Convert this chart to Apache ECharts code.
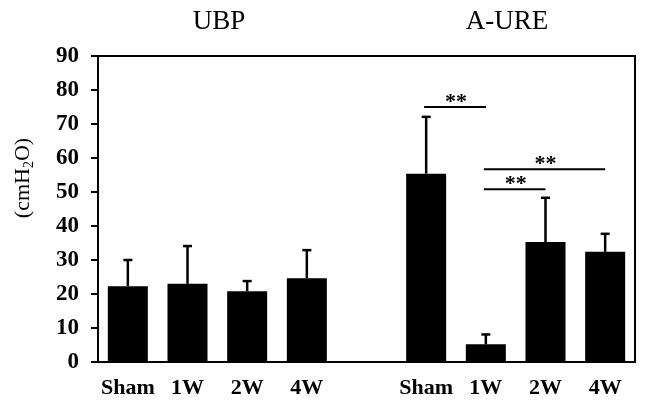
<!DOCTYPE html>
<html>
<head>
<meta charset="utf-8">
<script src="https://cdn.jsdelivr.net/npm/echarts@6/dist/echarts.min.js"></script>
<style>
  html, body { margin: 0; padding: 0; background: #fff; }
  #chart { width: 649px; height: 420px; }
</style>
</head>
<body>
<div id="chart"></div>
<script>
// groups and their categories
var groups = ['UBP', 'A-URE']
var weeks = ['Sham', '1W', '2W', '4W']
// mean values
var ubpMean = [22.3, 23.0, 20.8, 24.6]
var ureMean = [55.4, 5.2, 35.3, 32.4]
// error bar lengths (SD)
var ubpSd = [7.7, 11.1, 3.0, 8.3]
var ureSd = [16.7, 2.9, 13.0, 5.3]
// significance brackets: [from index, to index, height]
var sigFrom = [5, 6, 6]
var sigTo = [6, 7, 8]
var sigY = [75, 50.8, 56.7]
var sigText = ['**', '**', '**']
var yTicks = [0, 10, 20, 30, 40, 50, 60, 70, 80, 90]

// one empty slot between the two groups
var categories = weeks.concat(['']).concat(weeks)
var means = ubpMean.concat([null]).concat(ureMean)
var sds = ubpSd.concat([null]).concat(ureSd)

var errData = []
for (var i = 0; i < means.length; i++) {
  if (means[i] !== null) errData.push([i, means[i], means[i] + sds[i]])
}
var sigData = []
for (var k = 0; k < sigFrom.length; k++) {
  sigData.push([sigFrom[k], sigTo[k], sigY[k], sigText[k]])
}

var font = 'Liberation Serif, Times New Roman, serif'
var myChart = echarts.init(document.getElementById('chart'))

var option = {
  animation: false,
  textStyle: { fontFamily: font },
  graphic: [
    { type: 'text', x: 219, y: 22, style: { text: groups[0], font: '27px ' + font, fill: '#000', align: 'center', verticalAlign: 'middle' } },
    { type: 'text', x: 507, y: 22, style: { text: groups[1], font: '27px ' + font, fill: '#000', align: 'center', verticalAlign: 'middle' } },
    {
      // y axis unit, sits a bit above the middle of the axis
      type: 'text', x: 23, y: 178, rotation: Math.PI / 2,
      style: {
        text: '(cmH{s|2}O)', font: '22px ' + font, fill: '#000', align: 'center', verticalAlign: 'middle',
        rich: { s: { fontSize: 14, fontFamily: font, fill: '#000', padding: [12, 0, 0, 0] } }
      }
    }
  ],
  grid: {
    left: 98, right: 14, top: 56, bottom: 58,
    show: true, borderColor: '#000', borderWidth: 2
  },
  xAxis: {
    type: 'category',
    data: categories,
    axisLine: { lineStyle: { color: '#000', width: 2 } },
    axisTick: { show: false },
    axisLabel: { interval: 0, color: '#000', fontFamily: font, fontWeight: 'bold', fontSize: 22, margin: 15 }
  },
  yAxis: {
    type: 'value',
    min: yTicks[0],
    max: yTicks[yTicks.length - 1],
    interval: 10,
    axisLine: { show: true, lineStyle: { color: '#000', width: 2 } },
    axisTick: { show: true, length: 7, lineStyle: { color: '#000', width: 2 } },
    splitLine: { show: false },
    axisLabel: { color: '#000', fontFamily: font, fontWeight: 'bold', fontSize: 23, margin: 19 }
  },
  series: [
    {
      type: 'bar',
      data: means,
      barWidth: 40,
      itemStyle: { color: '#000' }
    },
    {
      // error bars, cap on top only
      type: 'custom',
      data: errData,
      z: 1,
      renderItem: function (params, api) {
        var x = api.value(0)
        var lo = api.coord([x, api.value(1)])
        var hi = api.coord([x, api.value(2)])
        var s = { stroke: '#000', lineWidth: 2.5 }
        return {
          type: 'group',
          children: [
            { type: 'line', shape: { x1: lo[0], y1: lo[1], x2: hi[0], y2: hi[1] }, style: s },
            { type: 'line', shape: { x1: hi[0] - 4.5, y1: hi[1], x2: hi[0] + 4.5, y2: hi[1] }, style: s }
          ]
        }
      }
    },
    {
      // significance brackets
      type: 'custom',
      data: sigData,
      renderItem: function (params, api) {
        var a = api.coord([api.value(0), api.value(2)])
        var b = api.coord([api.value(1), api.value(2)])
        return {
          type: 'group',
          children: [
            { type: 'line', shape: { x1: a[0] - 2, y1: a[1], x2: b[0], y2: b[1] }, style: { stroke: '#000', lineWidth: 2 } },
            { type: 'text', x: (a[0] + b[0]) / 2, y: a[1] - 5, style: { text: sigData[params.dataIndex][3], font: 'bold 22px ' + font, fill: '#000', align: 'center', verticalAlign: 'middle' } }
          ]
        }
      }
    }
  ]
}
myChart.setOption(option)
</script>
</body>
</html>
